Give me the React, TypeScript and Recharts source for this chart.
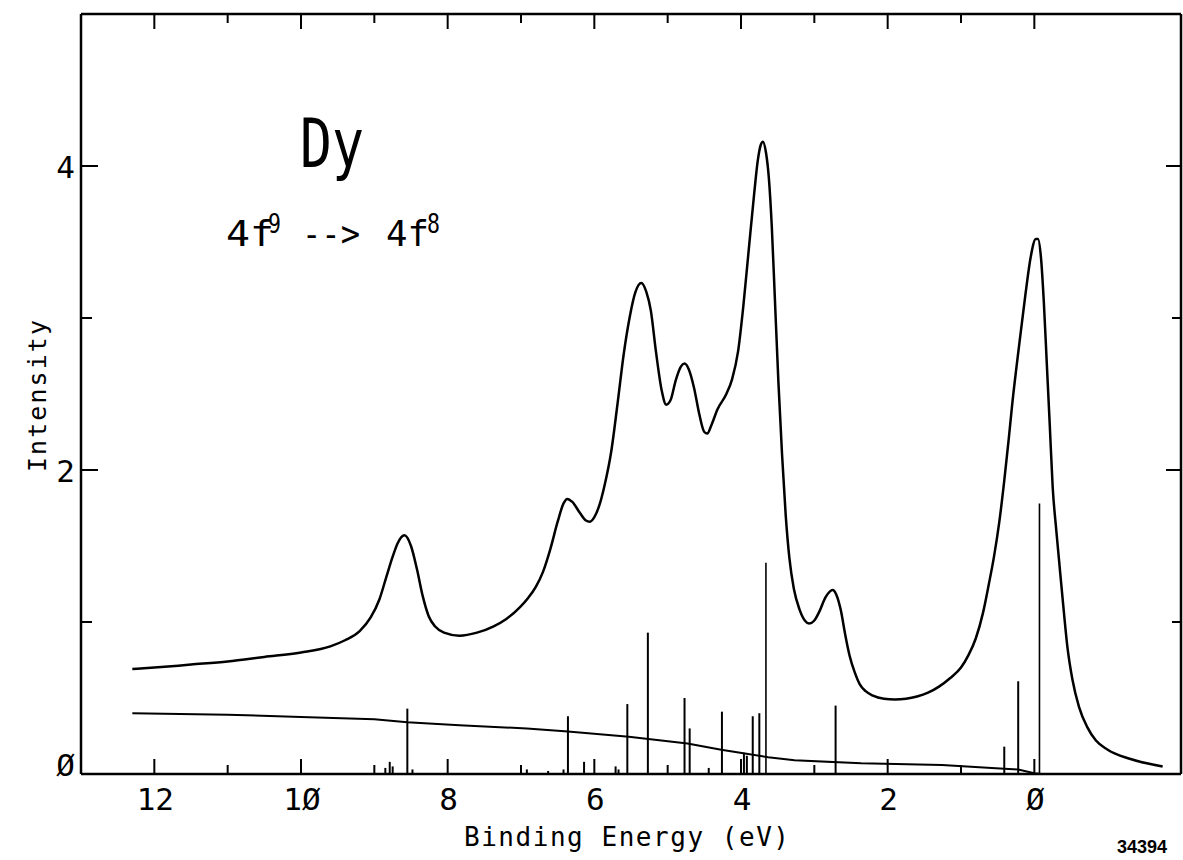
import React from 'react';
import { ComposedChart, Line, XAxis, YAxis, ReferenceLine } from 'recharts';

// calculated 4f photoemission spectrum (binding energy in eV, intensity)
const energy = [
  12.3, 12.0, 11.5, 11.0, 10.5, 10.0, 9.6, 9.4, 9.2, 9.05, 8.93, 8.84, 8.75, 8.68, 8.59,
  8.5, 8.42, 8.34, 8.26, 8.17, 8.05, 7.84, 7.6, 7.38, 7.2, 7.01, 6.9, 6.8, 6.7, 6.6,
  6.5, 6.42, 6.37, 6.3, 6.2, 6.12, 6.06, 6.0, 5.93, 5.86, 5.77, 5.68, 5.6, 5.52, 5.44,
  5.36, 5.29, 5.23, 5.16, 5.08, 5.02, 4.96, 4.89, 4.82, 4.77, 4.71, 4.64, 4.57, 4.5, 4.46,
  4.4, 4.32, 4.2, 4.12, 4.04, 3.97, 3.9, 3.82, 3.77, 3.73, 3.7, 3.66, 3.62, 3.58, 3.54,
  3.49, 3.44, 3.39, 3.34, 3.28, 3.2, 3.13, 3.07, 3.0, 2.93, 2.85, 2.79, 2.75, 2.7, 2.64,
  2.58, 2.52, 2.45, 2.38, 2.3, 2.2, 2.05, 1.9, 1.75, 1.6, 1.45, 1.3, 1.15, 1.0, 0.9,
  0.8, 0.7, 0.62, 0.55, 0.48, 0.41, 0.35, 0.3, 0.21, 0.12, 0.05, -0.02, -0.05, -0.09, -0.13,
  -0.17, -0.21, -0.25, -0.3, -0.34, -0.4, -0.45, -0.52, -0.61, -0.72, -0.84, -1.0, -1.3, -1.75,
];
const intensity = [
  0.69, 0.7, 0.72, 0.74, 0.77, 0.8, 0.84, 0.88, 0.94, 1.03, 1.15, 1.29, 1.43, 1.52, 1.57,
  1.5, 1.35, 1.17, 1.04, 0.97, 0.93, 0.91, 0.93, 0.97, 1.02, 1.1, 1.16, 1.23, 1.33, 1.48,
  1.66, 1.78, 1.81, 1.79, 1.72, 1.67, 1.66, 1.69, 1.77, 1.9, 2.12, 2.45, 2.76, 3.0, 3.17,
  3.23, 3.17, 3.05, 2.78, 2.52, 2.43, 2.46, 2.59, 2.68, 2.7, 2.66, 2.54, 2.37, 2.25, 2.24,
  2.3, 2.4, 2.5, 2.6, 2.78, 3.07, 3.42, 3.82, 4.04, 4.14, 4.16, 4.09, 3.92, 3.6, 3.15,
  2.58, 2.1, 1.7, 1.42, 1.22, 1.08, 1.01, 0.99, 1.01, 1.07, 1.16, 1.2, 1.21, 1.18, 1.08,
  0.92, 0.78, 0.67, 0.59, 0.545, 0.515, 0.495, 0.49, 0.495, 0.51, 0.535, 0.575, 0.63, 0.7, 0.78,
  0.89, 1.06, 1.25, 1.43, 1.65, 1.93, 2.2, 2.44, 2.81, 3.16, 3.4, 3.52, 3.52, 3.4, 3.1,
  2.7, 2.3, 1.89, 1.6, 1.39, 1.08, 0.84, 0.62, 0.44, 0.31, 0.22, 0.16, 0.1, 0.05,
];

// background curve
const bgEnergy = [12.3, 11.0, 10.0, 9.0, 8.55, 7.84, 6.92, 6.36, 5.53, 4.73, 4.27, 3.63, 3.27, 2.36, 1.26, 0.41, 0.22, 0.0, -0.1, -0.45];
const bgIntensity = [0.4, 0.39, 0.375, 0.36, 0.34, 0.32, 0.3, 0.28, 0.245, 0.2, 0.16, 0.11, 0.09, 0.07, 0.06, 0.035, 0.03, 0.005, 0, 0];

// multiplet lines (stick spectrum)
const stickEnergy = [8.85, 8.79, 8.75, 8.55, 8.48, 6.92, 6.63, 6.42, 6.36, 6.14, 5.71, 5.67, 5.55, 5.27, 4.77, 4.7, 4.44, 4.26, 3.96, 3.92, 3.84, 3.75, 3.66, 2.71, 0.41, 0.22, -0.07];
const stickHeight = [0.04, 0.08, 0.05, 0.43, 0.03, 0.03, 0.02, 0.03, 0.38, 0.08, 0.05, 0.03, 0.46, 0.93, 0.5, 0.3, 0.04, 0.41, 0.14, 0.12, 0.38, 0.4, 1.39, 0.45, 0.18, 0.61, 1.78];

const xTicks = [12, 11, 10, 9, 8, 7, 6, 5, 4, 3, 2, 1, 0];
const yTicks = [0, 1, 2, 3, 4];

const spectrum = energy.map((e, i) => ({ e, v: intensity[i] }));
const background = bgEnergy.map((e, i) => ({ e, v: bgIntensity[i] }));

const FONT = "'DejaVu Sans Mono', monospace";
const MAJOR = 15;
const MINOR = 9;
const isMajor = (v: number) => v % 2 === 0;
const slashZero = (v: number) => String(v).replace(/0/g, '\u00D8');

const BottomTick = (props: any) => {
  const { x, y, payload } = props;
  const v = payload.value;
  return (
    <g>
      <line x1={x} y1={y} x2={x} y2={y - (isMajor(v) ? MAJOR : MINOR)} stroke="#000" strokeWidth={2} />
      {isMajor(v) && (
        <text x={x + 1} y={y + 36} textAnchor="middle" fontFamily={FONT} fontSize={31} fill="#000">
          {slashZero(v)}
        </text>
      )}
    </g>
  );
};

const TopTick = (props: any) => {
  const { x, y, payload } = props;
  const v = payload.value;
  return <line x1={x} y1={y} x2={x} y2={y + (isMajor(v) ? MAJOR : MINOR)} stroke="#000" strokeWidth={2} />;
};

const LeftTick = (props: any) => {
  const { x, y, payload } = props;
  const v = payload.value;
  return (
    <g>
      <line x1={x} y1={y} x2={x + (isMajor(v) ? 17 : 11)} y2={y} stroke="#000" strokeWidth={2} />
      {isMajor(v) && (
        <text x={x - 6} y={v === 0 ? y + 2 : y + 12} textAnchor="end" fontFamily={FONT} fontSize={31} fill="#000">
          {slashZero(v)}
        </text>
      )}
    </g>
  );
};

const RightTick = (props: any) => {
  const { x, y, payload } = props;
  const v = payload.value;
  return <line x1={x} y1={y} x2={x - (isMajor(v) ? MAJOR : MINOR)} y2={y} stroke="#000" strokeWidth={2} />;
};

const axisLine = { stroke: '#000', strokeWidth: 2.5 };

const App: React.FC = () => {
  return (
    <div style={{ position: 'absolute', left: 0, top: 0, width: 1183, height: 860, background: '#fff' }}>
      <ComposedChart width={1183} height={860} margin={{ top: 0, right: 0, bottom: 0, left: 0 }}>
        <XAxis
          dataKey="e"
          type="number"
          domain={[-2, 13]}
          reversed
          allowDataOverflow
          ticks={xTicks}
          interval={0}
          tickSize={0}
          tickMargin={0}
          tickLine={false}
          axisLine={axisLine}
          tick={<BottomTick />}
          height={86}
        />
        <XAxis
          xAxisId="top"
          dataKey="e"
          type="number"
          orientation="top"
          domain={[-2, 13]}
          reversed
          allowDataOverflow
          ticks={xTicks}
          interval={0}
          tickSize={0}
          tickMargin={0}
          tickLine={false}
          axisLine={axisLine}
          tick={<TopTick />}
          height={14}
        />
        <YAxis
          type="number"
          domain={[0, 5]}
          allowDataOverflow
          ticks={yTicks}
          interval={0}
          tickSize={0}
          tickMargin={0}
          tickLine={false}
          axisLine={axisLine}
          tick={<LeftTick />}
          width={81}
        />
        <YAxis
          yAxisId="right"
          orientation="right"
          type="number"
          domain={[0, 5]}
          allowDataOverflow
          ticks={yTicks}
          interval={0}
          tickSize={0}
          tickMargin={0}
          tickLine={false}
          axisLine={axisLine}
          tick={<RightTick />}
          width={2}
        />
        {stickEnergy.map((e, i) => (
          <ReferenceLine
            key={i}
            segment={[{ x: e, y: 0 }, { x: e, y: stickHeight[i] }]}
            stroke="#000"
            strokeWidth={stickHeight[i] > 1 ? 1.6 : 2}
            ifOverflow="visible"
          />
        ))}
        <Line
          data={background}
          dataKey="v"
          type="linear"
          stroke="#000"
          strokeWidth={2}
          dot={false}
          isAnimationActive={false}
        />
        <Line
          data={spectrum}
          dataKey="v"
          type="monotone"
          stroke="#000"
          strokeWidth={2.5}
          dot={false}
          isAnimationActive={false}
        />
        <Line
          xAxisId="top"
          yAxisId="right"
          data={background}
          dataKey="v"
          stroke="none"
          dot={false}
          isAnimationActive={false}
        />
      </ComposedChart>
      <svg
        width={1183}
        height={860}
        style={{ position: 'absolute', left: 0, top: 0, pointerEvents: 'none' }}
        fontFamily={FONT}
        fill="#000"
      >
        <text x={300} y={167} fontSize={68} textLength={64} lengthAdjust="spacingAndGlyphs">Dy</text>
        <text x={226} y={246} fontSize={35} textLength={48} lengthAdjust="spacingAndGlyphs">4f</text>
        <text x={268} y={233} fontSize={27} textLength={13} lengthAdjust="spacingAndGlyphs">9</text>
        <text x={302} y={246} fontSize={35} textLength={58} lengthAdjust="spacingAndGlyphs">--&gt;</text>
        <text x={386} y={246} fontSize={35} textLength={43} lengthAdjust="spacingAndGlyphs">4f</text>
        <text x={427} y={233} fontSize={27} textLength={13} lengthAdjust="spacingAndGlyphs">8</text>
        <text x={464} y={846} fontSize={26} textLength={325}>Binding Energy (eV)</text>
        <text x={46} y={472} fontSize={25} textLength={152} transform="rotate(-90 46 472)">Intensity</text>
        <text x={1117} y={853} fontSize={18} fontWeight="bold" fontFamily="'Liberation Sans', Arial, sans-serif">34394</text>
      </svg>
    </div>
  );
};

export default App;
